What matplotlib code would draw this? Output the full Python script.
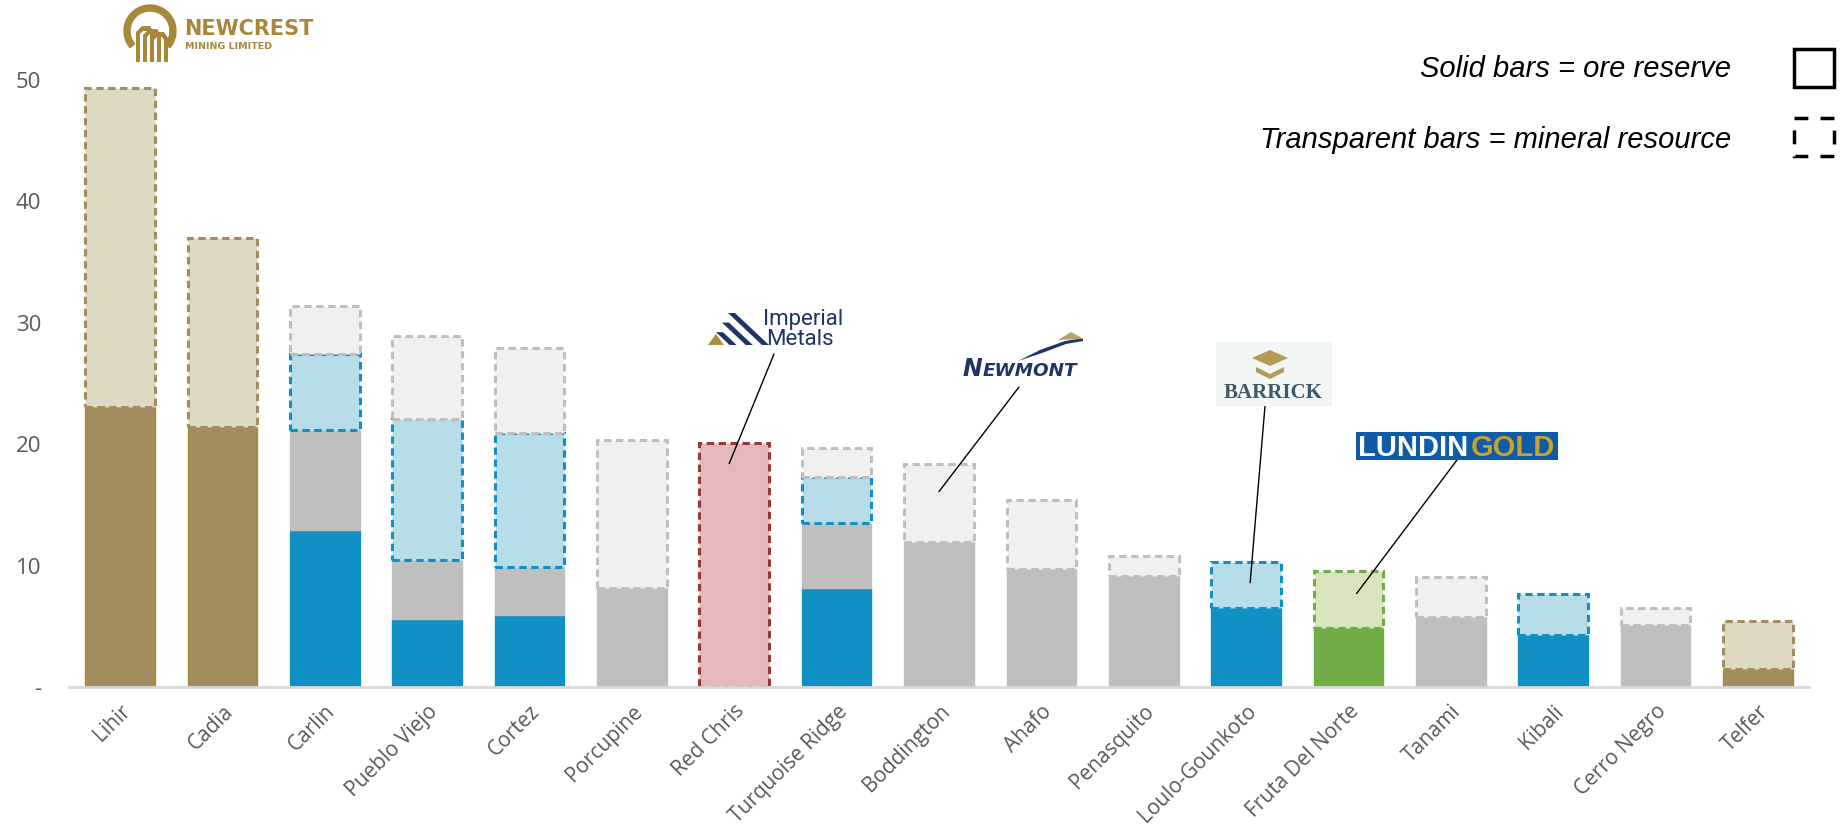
import numpy as np
import matplotlib
matplotlib.use("Agg")
import matplotlib.pyplot as plt
from matplotlib.patches import Rectangle, Polygon, Wedge
from matplotlib.transforms import Affine2D

categories = ['Lihir', 'Cadia', 'Carlin', 'Pueblo Viejo', 'Cortez', 'Porcupine',
              'Red Chris', 'Turquoise Ridge', 'Boddington', 'Ahafo', 'Penasquito',
              'Loulo-Gounkoto', 'Fruta Del Norte', 'Tanami', 'Kibali',
              'Cerro Negro', 'Telfer']

# segment heights (Moz), stacked bottom to top
newcrest_reserve = [23.1, 21.4, 0, 0, 0, 0, 0, 0, 0, 0, 0, 0, 0, 0, 0, 0, 1.45]
lundin_reserve = [0, 0, 0, 0, 0, 0, 0, 0, 0, 0, 0, 0, 4.85, 0, 0, 0, 0]
barrick_reserve = [0, 0, 12.9, 5.6, 5.95, 0, 0, 8.15, 0, 0, 0, 6.5, 0, 0, 4.3, 0, 0]
newmont_reserve = [0, 0, 8.3, 4.9, 3.95, 8.15, 0, 5.35, 11.95, 9.7, 9.15, 0, 0, 5.75, 0, 5.1, 0]
barrick_resource = [0, 0, 6.2, 11.6, 11.05, 0, 0, 3.8, 0, 0, 0, 3.8, 0, 0, 3.35, 0, 0]
newmont_resource = [0, 0, 4.0, 6.85, 6.95, 12.2, 0, 2.4, 6.4, 5.7, 1.65, 0, 0, 3.35, 0, 1.4, 0]
newcrest_resource = [26.2, 15.6, 0, 0, 0, 0, 0, 0, 0, 0, 0, 0, 0, 0, 0, 0, 4.0]
lundin_resource = [0, 0, 0, 0, 0, 0, 0, 0, 0, 0, 0, 0, 4.7, 0, 0, 0, 0]
imperial_resource = [0, 0, 0, 0, 0, 0, 20.1, 0, 0, 0, 0, 0, 0, 0, 0, 0, 0]

y_ticks = [0, 10, 20, 30, 40, 50]
y_labels = ['-', '10', '20', '30', '40', '50']

W, H = 1842, 830
fig = plt.figure(figsize=(W / 100, H / 100), dpi=100)
# pixel coords, origin top-left
pix = Affine2D().scale(1 / W, -1 / H).translate(0, 1) + fig.transFigure

ax = fig.add_axes([69 / W, 1 - 687 / H, (1809 - 69) / W, (687 - 80) / H])
x = np.arange(len(categories))
bw = 0.68
dash = (0, (2.4, 1.5))

layers = [
    (newcrest_reserve, '#A38C5E', '#A09030', 'solid'),
    (lundin_reserve, '#70AD47', '#70AD47', 'solid'),
    (barrick_reserve, '#1190C3', '#1190C3', 'solid'),
    (newmont_reserve, '#BFBFBF', '#BFBFBF', 'solid'),
    (barrick_resource, '#B7DDE8', '#1190C3', 'dashed'),
    (newmont_resource, '#F0F0F0', '#BFBFBF', 'dashed'),
    (newcrest_resource, '#DDD9C3', '#A38C5E', 'dashed'),
    (lundin_resource, '#D8E4BC', '#70AD47', 'dashed'),
    (imperial_resource, '#E6B8B7', '#953735', 'dashed'),
]

bottom = np.zeros(len(categories))
for vals, fc, ec, style in layers:
    vals = np.array(vals, dtype=float)
    m = vals > 0
    if style == 'solid':
        ax.bar(x[m], vals[m], bw, bottom=bottom[m], color=fc, edgecolor=ec,
               linewidth=1.0, zorder=2)
    else:
        ax.bar(x[m], vals[m], bw, bottom=bottom[m], color=fc, edgecolor=ec,
               linewidth=2.2, linestyle=dash, zorder=3)
    bottom += vals

ax.set_xlim(-0.5, len(categories) - 0.5)
ax.set_ylim(0, 50)
for s in ['top', 'right', 'left']:
    ax.spines[s].set_visible(False)
ax.spines['bottom'].set_color('#D9D9D9')
ax.spines['bottom'].set_linewidth(2)
ax.spines['bottom'].set_zorder(5)
ax.set_yticks(y_ticks)
ax.set_yticklabels(y_labels)
ax.set_xticks(x)
ax.set_xticklabels(categories, rotation=45, ha='right', rotation_mode='anchor')
ax.tick_params(axis='y', length=0, pad=20, labelsize=16, labelcolor='#595959')
ax.tick_params(axis='x', length=0, pad=10, labelsize=15, labelcolor='#595959')
for lab in ax.get_xticklabels() + ax.get_yticklabels():
    lab.set_fontfamily('Open Sans')

# legend text and boxes
fig.text(1731, 77, 'Solid bars = ore reserve', transform=pix, ha='right', va='baseline',
         fontsize=21, style='italic', family='Liberation Sans')
fig.text(1731, 148, 'Transparent bars = mineral resource', transform=pix, ha='right',
         va='baseline', fontsize=21, style='italic', family='Liberation Sans')
fig.add_artist(Rectangle((1794, 49), 40, 38, transform=pix, fill=False, ec='black', lw=2.5))
fig.add_artist(Rectangle((1794, 118), 40, 38, transform=pix, fill=False, ec='black', lw=2.5,
                         linestyle=(0, (4, 3.5))))

# Newcrest logo
gold = '#A8873A'
fig.add_artist(Wedge((150, 31), 26, 140, 400, width=6, transform=pix, color=gold))
for i, xs in enumerate([136, 143, 150]):
    top = 26 + 3 * i
    fig.add_artist(Polygon([(xs, 62), (xs, top + 6), (xs + 6, top), (xs + 14, top),
                            (xs + 18, top + 6), (xs + 18, 62), (xs + 14, 62), (xs + 14, top + 8),
                            (xs + 12, top + 5), (xs + 7, top + 5), (xs + 4, top + 8), (xs + 4, 62)],
                           closed=True, transform=pix, color=gold, lw=0))
fig.text(184, 35, 'NEWCREST', transform=pix, ha='left', va='baseline', fontsize=15,
         fontweight='bold', color=gold, family='DejaVu Sans Condensed')
fig.text(185, 49, 'MINING LIMITED', transform=pix, ha='left', va='baseline', fontsize=6.8,
         fontweight='bold', color=gold, family='DejaVu Sans Condensed')

# Imperial Metals logo: striped triangle plus gold corner
navy = '#1F3468'
apex = (728, 313)
for t in [0.0, 0.3, 0.6]:
    sx, sy = apex[0] - 20 * t, apex[1] + 32 * t
    ex = sx + (345 - sy) * 34 / 32
    fig.add_artist(Polygon([(sx, sy), (sx + 7, sy), (ex + 7, 345), (ex, 345)],
                           closed=True, transform=pix, color=navy, lw=0))
fig.add_artist(Polygon([(708, 345), (716, 334), (724, 345)], closed=True, transform=pix,
                       color='#B08D3C', lw=0))
fig.text(763, 325, 'Imperial', transform=pix, ha='left', va='baseline', fontsize=16,
         color=navy, family='Roboto')
fig.text(766, 345, 'Metals', transform=pix, ha='left', va='baseline', fontsize=16,
         color=navy, family='Roboto')

# Newmont logo
fig.add_artist(Polygon([(1018, 361), (1040, 350), (1065, 341), (1083, 338), (1083, 341),
                        (1066, 344), (1042, 353)], closed=True, transform=pix, color=navy, lw=0))
fig.add_artist(Polygon([(1058, 340), (1071, 332), (1084, 339)], closed=True, transform=pix,
                       color='#B8A070', lw=0))
fig.text(962, 376, 'N', transform=pix, ha='left', va='baseline', fontsize=17,
         fontweight='bold', style='italic', color=navy, family='DejaVu Sans')
fig.text(983, 376, 'EWMONT', transform=pix, ha='left', va='baseline', fontsize=13.2,
         fontweight='bold', style='italic', color=navy, family='DejaVu Sans')

# Barrick logo
fig.add_artist(Rectangle((1216, 342), 116, 64, transform=pix, color='#F2F7F6', lw=0))
fig.add_artist(Polygon([(1252, 358), (1270, 350), (1288, 358), (1270, 366)], closed=True,
                       transform=pix, color='#B39A55', lw=0))
fig.add_artist(Polygon([(1256, 367), (1270, 374), (1284, 367), (1284, 372), (1270, 379),
                        (1256, 372)], closed=True, transform=pix, color='#B39A55', lw=0))
fig.text(1273, 398, 'BARRICK', transform=pix, ha='center', va='baseline', fontsize=15,
         fontweight='bold', color='#3D5866', family='Liberation Serif')

# Lundin Gold logo
fig.add_artist(Rectangle((1356, 432), 202, 28, transform=pix, color='#0E5CA8', lw=0))
fig.text(1358, 456, 'LUNDIN', transform=pix, ha='left', va='baseline', fontsize=21,
         fontweight='bold', color='white', family='Liberation Sans')
fig.text(1471, 456, 'GOLD', transform=pix, ha='left', va='baseline', fontsize=21,
         fontweight='bold', color='#C9A227', family='Liberation Sans')

# leader lines from logos to bars
leaders = [((774, 354), (6 - 0.05, 18.4)),
           ((1019, 387), (8.0, 16.1)),
           ((1265, 406), (11.04, 8.6)),
           ((1457, 460), (12.08, 7.7))]
for (px, py), (dx, dy) in leaders:
    ax.annotate('', xy=(dx, dy), xycoords='data', xytext=(px, H - py),
                textcoords='figure pixels',
                arrowprops=dict(arrowstyle='-', color='black', lw=1.0,
                                shrinkA=0, shrinkB=0), zorder=6)

fig.savefig('out.png', dpi=100)
